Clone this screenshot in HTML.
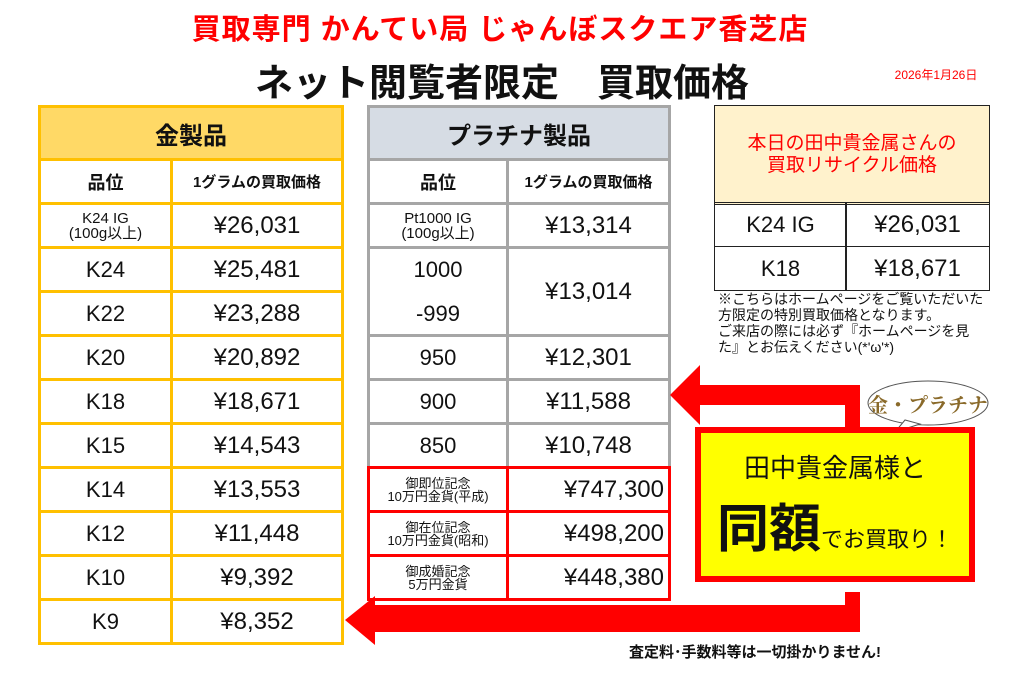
<!DOCTYPE html>
<html><head><meta charset="utf-8"><style>
body{margin:0;width:1024px;height:678px;background:#fff;position:relative;overflow:hidden;font-family:"Liberation Sans","Noto Sans CJK JP",sans-serif}
.a{position:absolute;box-sizing:border-box;display:flex;align-items:center;justify-content:center;text-align:center;color:#111}
.g{border:3px solid #FFC000}
.p{border:3px solid #A6A6A6}
.k{border:1.5px solid #222}
.r{border:3px solid #F00}
</style></head><body>
<div class="a" style="left:0;top:6px;width:1000px;height:42px;color:#F00;font-size:29px;font-weight:bold;letter-spacing:1px">買取専門 かんてい局 じゃんぼスクエア香芝店</div>
<div class="a" style="left:0;top:53px;width:1004px;height:52px;font-size:38px;font-weight:bold">ネット閲覧者限定　買取価格</div>
<div class="a" style="left:880px;top:66px;width:112px;height:16px;color:#F00;font-size:12px">2026年1月26日</div>
<div id="t"></div>
<svg style="position:absolute;left:0;top:0" width="1024" height="678">
<path d="M860 430 V385 H700 V365 L670 395 L700 425 V405 H845 V430 Z" fill="#F00"/>
<path d="M860 592 V632 H375 V645 L345 620 L375 596 V605 H845 V592 Z" fill="#F00"/>
<ellipse cx="928" cy="403" rx="60" ry="22" fill="#fff" stroke="#555"/>
<path d="M905 420 L895 432 L920 424 Z" fill="#fff" stroke="#555"/>
<text x="928" y="412" text-anchor="middle" font-size="20" font-weight="bold" fill="#8a6a2a" font-family="Liberation Serif,Noto Serif CJK SC,serif">金・プラチナ</text>
</svg>
<div class="a" style="left:695px;top:427px;width:280px;height:155px;background:#FF0;border:6px solid #F00;flex-direction:column">
<div style="font-size:26px">田中貴金属様と</div>
<div style="font-size:22px;margin-top:2px"><span style="font-size:52px;font-weight:bold">同額</span>でお買取り！</div></div>
<div style="position:absolute;left:718px;top:291px;width:268px;font-size:14px;line-height:16px;color:#111">※こちらはホームページをご覧いただいた方限定の特別買取価格となります。<br>ご来店の際には必ず『ホームページを見た』とお伝えください(*'ω'*)</div>
<div class="a" style="left:560px;top:640px;width:390px;height:22px;font-size:15px;font-weight:bold">査定料･手数料等は一切掛かりません!</div>
<script>
let h='';
function c(x,y,w,hh,cls,txt,fs,ex){h+=`<div class="a ${cls}" style="left:${x}px;top:${y}px;width:${w}px;height:${hh}px;font-size:${fs}px;${ex||''}">${txt}</div>`}
c(38,105,306,56,'g','金製品',24,'background:#FFD966;font-weight:bold');
c(38,158,135,47,'g','品位',18,'font-weight:bold');c(170,158,174,47,'g','1グラムの買取価格',15,'font-weight:bold');
const G=[['K24 IG<br>(100g以上)','¥26,031'],['K24','¥25,481'],['K22','¥23,288'],['K20','¥20,892'],['K18','¥18,671'],['K15','¥14,543'],['K14','¥13,553'],['K12','¥11,448'],['K10','¥9,392'],['K9','¥8,352']];
G.forEach((r,i)=>{let y=202+i*44;c(38,y,135,47,'g',r[0],i?22:15,i?'':'line-height:15px');c(170,y,174,47,'g',r[1],24)});
c(367,105,304,56,'p','プラチナ製品',24,'background:#D6DCE4;font-weight:bold');
c(367,158,142,47,'p','品位',18,'font-weight:bold');c(506,158,165,47,'p','1グラムの買取価格',15,'font-weight:bold');
c(367,202,142,47,'p','Pt1000 IG<br>(100g以上)',15,'line-height:15px');c(506,202,165,47,'p','¥13,314',24);
c(367,246,142,91,'p','1000<br><br>-999',22,'line-height:22px');c(506,246,165,91,'p','¥13,014',24);
[['950','¥12,301'],['900','¥11,588'],['850','¥10,748']].forEach((r,i)=>{let y=334+i*44;c(367,y,142,47,'p',r[0],22);c(506,y,165,47,'p',r[1],24)});
[['御即位記念<br>10万円金貨(平成)','¥747,300'],['御在位記念<br>10万円金貨(昭和)','¥498,200'],['御成婚記念<br>5万円金貨','¥448,380']].forEach((r,i)=>{let y=466+i*44;c(367,y,142,47,'r',r[0],13,'line-height:13px;overflow:hidden;padding:0 4px');c(506,y,165,47,'r',r[1],24,'justify-content:flex-end;padding-right:4px')});
c(714,105,276,100,'k','本日の田中貴金属さんの<br>買取リサイクル価格',19,'background:#FFF2CC;color:#F00;line-height:22px');
c(714,202,133,45,'k','K24 IG',22);c(845,202,145,45,'k','¥26,031',24);
c(714,246,133,45,'k','K18',22);c(845,246,145,45,'k','¥18,671',24);
document.getElementById('t').outerHTML=h;
</script>
</body></html>
